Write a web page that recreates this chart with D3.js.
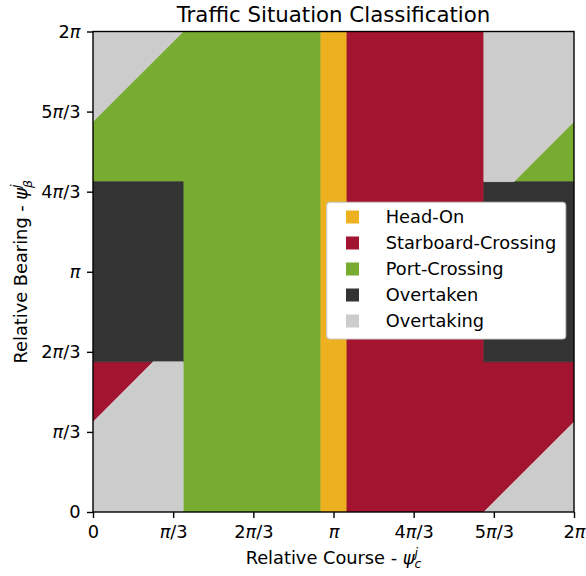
<!DOCTYPE html>
<html>
<head>
<meta charset="utf-8">
<script src="https://cdn.jsdelivr.net/npm/d3@7"></script>
<style>
    body { margin: 0; background: #fff; }
    text { font-family: "DejaVu Sans", sans-serif; fill: #000; }
</style>
</head>
<body>
<div id="chart"></div>
<script>
// regions in degrees, points are [relative course, relative bearing]
const categories = ["Head-On", "Starboard-Crossing", "Port-Crossing", "Overtaken", "Overtaking"];
const colors = ["#EDB120", "#A2142F", "#77AC30", "#333333", "#CCCCCC"];

const headOn = [
    [[170, 0], [190, 0], [190, 360], [170, 360]]
];
const starboardCrossing = [
    [[190, 0], [292.5, 0], [360, 67.5], [360, 112.5], [292.5, 112.5], [292.5, 360], [190, 360]],
    [[0, 67.5], [45, 112.5], [0, 112.5]]
];
const portCrossing = [
    [[0, 247.5], [67.5, 247.5], [67.5, 0], [170, 0], [170, 360], [67.5, 360], [0, 292.5]],
    [[315, 247.5], [360, 247.5], [360, 292.5]]
];
const overtaken = [
    [[0, 112.5], [67.5, 112.5], [67.5, 247.5], [0, 247.5]],
    [[292.5, 112.5], [360, 112.5], [360, 247.5], [292.5, 247.5]]
];
const overtaking = [
    [[0, 0], [67.5, 0], [67.5, 112.5], [45, 112.5], [0, 67.5]],
    [[0, 292.5], [67.5, 360], [0, 360]],
    [[292.5, 247.5], [315, 247.5], [360, 292.5], [360, 360], [292.5, 360]],
    [[292.5, 0], [360, 0], [360, 67.5]]
];
const regions = [headOn, starboardCrossing, portCrossing, overtaken, overtaking];

const tickValues = [0, 60, 120, 180, 240, 300, 360];
const tickLabels = ["0", "π/3", "2π/3", "π", "4π/3", "5π/3", "2π"];

var margin = { top: 31.5, right: 12, bottom: 64, left: 93 },
    width = 586 - margin.left - margin.right,
    height = 576 - margin.top - margin.bottom;
var fs = 17.8;

var svg = d3.select("#chart")
    .append("svg")
    .attr("width", 586)
    .attr("height", 576);

var g = svg.append("g")
    .attr("transform", "translate(" + margin.left + "," + margin.top + ")");

var x = d3.scaleLinear().domain([0, 360]).range([0, width]);
var y = d3.scaleLinear().domain([0, 360]).range([height, 0]);

svg.append("defs").append("clipPath").attr("id", "clip")
    .append("rect").attr("width", width).attr("height", height);

var line = d3.line().x(d => x(d[0])).y(d => y(d[1]));

var area = g.append("g").attr("clip-path", "url(#clip)");
regions.forEach(function (polys, i) {
    area.selectAll(null)
        .data(polys)
        .enter()
        .append("path")
        .attr("d", d => line(d) + "Z")
        .attr("fill", colors[i])
        .attr("stroke", colors[i])
        .attr("stroke-width", 0.6);
});

// italic pi in tick labels
function piLabels(axisG) {
    axisG.selectAll(".tick text").each(function (d, i) {
        var t = d3.select(this);
        t.text(null);
        tickLabels[i].split(/(π)/).forEach(function (p) {
            if (!p) return;
            t.append("tspan").style("font-style", p === "π" ? "italic" : "normal").text(p);
        });
    });
}

var xAxis = g.append("g")
    .attr("transform", "translate(0," + height + ")")
    .call(d3.axisBottom(x).tickValues(tickValues).tickSize(6).tickSizeOuter(0).tickPadding(7.5));
var yAxis = g.append("g")
    .call(d3.axisLeft(y).tickValues(tickValues).tickSize(6).tickSizeOuter(0).tickPadding(6.5));

[xAxis, yAxis].forEach(function (a) {
    a.attr("font-family", null).attr("font-size", fs);
    a.select(".domain").remove();
    a.selectAll(".tick line").attr("stroke", "#000").attr("stroke-width", 1.4);
    piLabels(a);
});

// frame
g.append("rect")
    .attr("width", width)
    .attr("height", height)
    .attr("fill", "none")
    .attr("stroke", "#000")
    .attr("stroke-width", 1.4);

// axis labels with psi
function psiLabel(t, label, sub, sup) {
    t.append("tspan").text(label + " - ");
    t.append("tspan").style("font-style", "italic").text("ψ");
    t.append("tspan").style("font-style", "italic").attr("font-size", fs * 0.7)
        .attr("dy", -7).text(sup);
    t.append("tspan").style("font-style", "italic").attr("font-size", fs * 0.7)
        .attr("dx", -3.5).attr("dy", 11.5).text(sub);
}

var xl = svg.append("text")
    .attr("x", margin.left + width / 2)
    .attr("y", 563.5)
    .attr("text-anchor", "middle")
    .attr("font-size", fs);
psiLabel(xl, "Relative Course", "c", "j");

var yl = svg.append("text")
    .attr("transform", "translate(27," + (margin.top + height / 2) + ")rotate(-90)")
    .attr("text-anchor", "middle")
    .attr("font-size", fs);
psiLabel(yl, "Relative Bearing", "β", "j");

svg.append("text")
    .attr("x", margin.left + width / 2)
    .attr("y", 21.5)
    .attr("text-anchor", "middle")
    .attr("font-size", 21.3)
    .text("Traffic Situation Classification");

// legend
var legend = svg.append("g").attr("transform", "translate(326.7,202.3)");
legend.append("rect")
    .attr("width", 239)
    .attr("height", 136.7)
    .attr("rx", 3.5)
    .attr("fill", "#fff")
    .attr("stroke", "#cccccc")
    .attr("stroke-width", 1.2);

var item = legend.selectAll("g.item")
    .data(categories)
    .enter()
    .append("g")
    .attr("class", "item")
    .attr("transform", (d, i) => "translate(0," + (14.7 + i * 26) + ")");
item.append("rect")
    .attr("x", 19.3)
    .attr("y", -6.5)
    .attr("width", 13)
    .attr("height", 13)
    .attr("fill", (d, i) => colors[i]);
item.append("text")
    .attr("x", 59)
    .attr("dy", "0.36em")
    .attr("font-size", fs)
    .text(d => d);
</script>
</body>
</html>
